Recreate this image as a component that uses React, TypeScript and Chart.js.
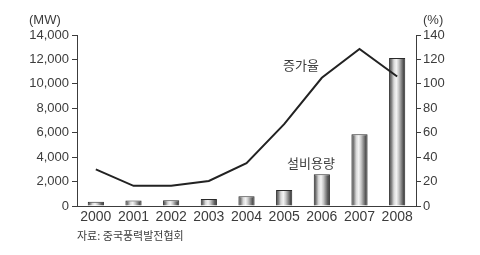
import React, { useEffect, useRef } from "react";
import { Chart, registerables } from "chart.js";

Chart.register(...registerables);

const years = ["2000", "2001", "2002", "2003", "2004", "2005", "2006", "2007", "2008"];
const capacityMW = [350, 450, 470, 570, 790, 1300, 2600, 5880, 12120];
const growthPct = [30, 16.5, 16.5, 20.5, 35, 67, 105, 128.5, 106];
const leftTicks = [0, 2000, 4000, 6000, 8000, 10000, 12000, 14000];
const rightTicks = [0, 20, 40, 60, 80, 100, 120, 140];

const TICK_COLOR = "#3c3c3c";
const FONT = "'Liberation Sans', Arial, Helvetica, sans-serif";
const KFONT = "'Noto Sans CJK KR', 'Noto Sans', sans-serif";

export default function App() {
  const ref = useRef<HTMLCanvasElement | null>(null);

  useEffect(() => {
    if (!ref.current) return;
    const barFill = (ctx: any) => {
      const chart = ctx.chart;
      const xs = chart.scales?.x;
      if (!xs || ctx.dataIndex === undefined) return "#999";
      const cx = xs.getPixelForValue(ctx.dataIndex);
      const w = (xs.width / years.length) * 0.43;
      if (!isFinite(cx) || !isFinite(w) || w <= 0) return "#999";
      const g = chart.ctx.createLinearGradient(cx - w / 2, 0, cx + w / 2, 0);
      g.addColorStop(0, "#2e2e2e");
      g.addColorStop(0.3, "#d8d8d8");
      g.addColorStop(0.45, "#f4f4f4");
      g.addColorStop(0.6, "#c8c8c8");
      g.addColorStop(1, "#222222");
      return g;
    };
    const chart = new Chart(ref.current, {
      type: "bar",
      data: {
        labels: years,
        datasets: [
          {
            type: "line",
            label: "증가율",
            data: growthPct,
            yAxisID: "y1",
            borderColor: "#222",
            borderWidth: 2,
            pointRadius: 0,
            tension: 0,
            order: 0,
          } as any,
          {
            type: "bar",
            label: "설비용량",
            data: capacityMW,
            yAxisID: "y",
            backgroundColor: barFill,
            borderColor: "#2a2a2a",
            borderWidth: 1,
            categoryPercentage: 1,
            barPercentage: 0.43,
            order: 1,
          } as any,
        ],
      },
      options: {
        animation: false,
        responsive: false,
        events: [],
        layout: { padding: { left: 0, right: 0, top: 35, bottom: 0 } },
        plugins: { legend: { display: false }, tooltip: { enabled: false }, title: { display: false } },
        scales: {
          x: {
            grid: { display: false, drawTicks: false },
            border: { display: true, color: TICK_COLOR, width: 1 },
            ticks: { color: TICK_COLOR, font: { family: FONT, size: 14 }, padding: 3, maxRotation: 0 },
            afterFit: (s: any) => { s.height = 49; },
          },
          y: {
            position: "left",
            min: 0,
            max: 14000,
            afterBuildTicks: (s: any) => { s.ticks = leftTicks.map((v) => ({ value: v })); },
            grid: { drawOnChartArea: false, drawTicks: true, tickLength: 5, color: TICK_COLOR },
            border: { display: true, color: TICK_COLOR, width: 1 },
            ticks: {
              color: TICK_COLOR,
              font: { family: FONT, size: 13 },
              padding: 3,
              callback: (v: any) => Number(v).toLocaleString("en-US"),
            },
            afterFit: (s: any) => { s.width = 77; },
          },
          y1: {
            position: "right",
            min: 0,
            max: 140,
            afterBuildTicks: (s: any) => { s.ticks = rightTicks.map((v) => ({ value: v })); },
            grid: { drawOnChartArea: false, drawTicks: true, tickLength: 5, color: TICK_COLOR },
            border: { display: true, color: TICK_COLOR, width: 1 },
            ticks: { color: TICK_COLOR, font: { family: FONT, size: 13 }, padding: 2 },
            afterFit: (s: any) => { s.width = 64; },
          },
        },
      },
    });
    chart.update();
    return () => chart.destroy();
  }, []);

  const label = (text: string, left: number, top: number, size: number, family: string, extra: any = {}) => (
    <div
      style={{
        position: "absolute",
        left,
        top,
        fontSize: size,
        fontFamily: family,
        color: TICK_COLOR,
        whiteSpace: "nowrap",
        lineHeight: 1,
        ...extra,
      }}
    >
      {text}
    </div>
  );

  return (
    <div style={{ position: "fixed", left: 0, top: 0, width: 480, height: 255, background: "#fff" }}>
      <canvas ref={ref} width={480} height={255} style={{ position: "absolute", left: 0, top: 0 }} />
      {label("(MW)", 29, 13, 13, FONT)}
      {label("(%)", 423, 13, 13, FONT)}
      {label("증가율", 283, 58, 13, KFONT)}
      {label("설비용량", 287, 156, 13, KFONT)}
      {label("자료: 중국풍력발전협회", 77, 230, 11, KFONT)}
    </div>
  );
}
